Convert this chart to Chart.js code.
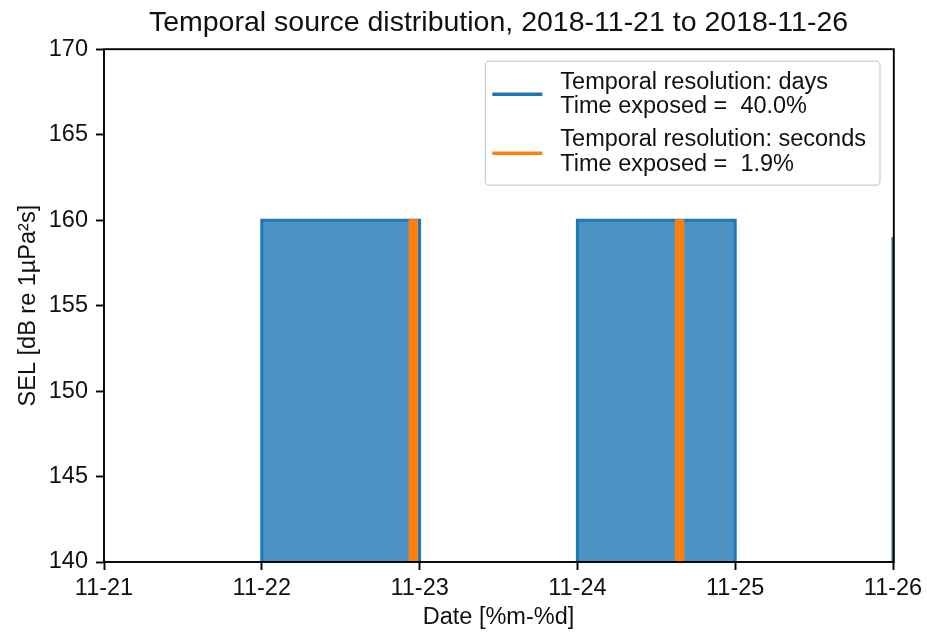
<!DOCTYPE html>
<html>
<head>
<meta charset="utf-8">
<script src="https://cdn.jsdelivr.net/npm/chart.js@4"></script>
<style>
  html, body { margin: 0; padding: 0; background: #ffffff; }
  canvas { display: block; }
</style>
</head>
<body>
<canvas id="chart" width="927" height="632"></canvas>
<script>
// ---- data ----
const chartTitle = 'Temporal source distribution, 2018-11-21 to 2018-11-26';
const rangeStart = '2018-11-21';
const xTickLabels = ['11-21', '11-22', '11-23', '11-24', '11-25', '11-26'];
const yTicks = [140, 145, 150, 155, 160, 165, 170];

// daily bins (each one day long)
const dayBinStarts = ['2018-11-22', '2018-11-24', '2018-11-26'];
const dayBinSEL = [160, 160, 159];

// per-second exposure windows
const secondBinStarts = ['2018-11-22T22:29', '2018-11-24T14:59'];
const secondBinEnds   = ['2018-11-22T23:37', '2018-11-24T16:06'];
const secondBinSEL = [160, 160];

const seriesNames = ['Temporal resolution: days', 'Temporal resolution: seconds'];
const timeExposedPct = ['40.0', '1.9'];
const seriesColors = ['#1f77b4', '#ff7f0e'];
const seriesFills = ['rgba(31,119,180,0.8)', 'rgba(255,127,14,1)'];

const xLabel = 'Date [%m-%d]';
const yLabel = 'SEL [dB re 1\u00b5Pa\u00b2s]';

// ---- helpers ----
const FONT = "'Liberation Sans', Arial, sans-serif";
const DAY_MS = 86400000;
const t0 = Date.parse(rangeStart + 'T00:00:00Z');
const toDays = s => (Date.parse(s.length === 10 ? s + 'T00:00:00Z' : s + ':00Z') - t0) / DAY_MS;
const yMin = yTicks[0], yMax = yTicks[yTicks.length - 1];

// a filled rectangle from the axis floor up to the level, between two x values
function rectPoints(x0, x1, level) {
  return [{x: x0, y: yMin}, {x: x0, y: level}, {x: x1, y: level}, {x: x1, y: yMin}];
}

const datasets = [];
dayBinStarts.forEach((s, i) => {
  const a = toDays(s);
  datasets.push({
    label: seriesNames[0],
    data: rectPoints(a, a + 1, dayBinSEL[i]),
    borderColor: seriesColors[0],
    backgroundColor: seriesFills[0],
    borderWidth: 3,
    fill: 'start',
    order: 2
  });
});
secondBinStarts.forEach((s, i) => {
  datasets.push({
    label: seriesNames[1],
    data: rectPoints(toDays(s), toDays(secondBinEnds[i]), secondBinSEL[i]),
    borderColor: seriesColors[1],
    backgroundColor: seriesFills[1],
    borderWidth: 2,
    fill: 'start',
    order: 1
  });
});

// frame around the plotting area
const framePlugin = {
  id: 'frame',
  afterDatasetsDraw(chart) {
    const {ctx, chartArea: a} = chart;
    ctx.save();
    ctx.strokeStyle = '#000';
    ctx.lineWidth = 1.9;
    ctx.strokeRect(a.left, a.top, a.right + 0.8 - a.left, a.bottom - a.top);
    ctx.restore();
  }
};

// boxed legend in the upper right of the plotting area
const legendBoxPlugin = {
  id: 'legendBox',
  afterDraw(chart) {
    const {ctx, chartArea: a} = chart;
    ctx.save();
    ctx.font = '23.5px ' + FONT;
    const lines = [];
    seriesNames.forEach((n, i) => {
      lines.push(n);
      lines.push('Time exposed =  ' + timeExposedPct[i] + '%');
    });
    const maxW = Math.max(...lines.map(l => ctx.measureText(l).width));
    const w = 7 + 50 + 18 + maxW + 14;
    const h = 124;
    const right = a.right - 13;
    const left = right - w;
    const top = a.top + 12;
    const r = 4;
    ctx.beginPath();
    ctx.moveTo(left + r, top);
    ctx.arcTo(right, top, right, top + h, r);
    ctx.arcTo(right, top + h, left, top + h, r);
    ctx.arcTo(left, top + h, left, top, r);
    ctx.arcTo(left, top, right, top, r);
    ctx.closePath();
    ctx.fillStyle = 'rgba(255,255,255,0.85)';
    ctx.fill();
    ctx.strokeStyle = '#cccccc';
    ctx.lineWidth = 1.2;
    ctx.stroke();

    const handleY = [33, 92];
    const baselines = [[28, 52], [85, 110]];
    seriesNames.forEach((n, i) => {
      ctx.strokeStyle = seriesColors[i];
      ctx.lineWidth = 3.5;
      ctx.beginPath();
      ctx.moveTo(left + 7, top + handleY[i]);
      ctx.lineTo(left + 57, top + handleY[i]);
      ctx.stroke();
      ctx.fillStyle = '#111';
      ctx.textBaseline = 'alphabetic';
      ctx.textAlign = 'left';
      ctx.fillText(lines[i * 2], left + 75, top + baselines[i][0]);
      ctx.fillText(lines[i * 2 + 1], left + 75, top + baselines[i][1]);
    });
    ctx.restore();
  }
};

new Chart(document.getElementById('chart'), {
  type: 'line',
  data: { datasets },
  plugins: [framePlugin, legendBoxPlugin],
  options: {
    responsive: false,
    animation: false,
    devicePixelRatio: 1,
    layout: { padding: { left: 0, right: 34, top: 0, bottom: 0 } },
    elements: {
      point: { radius: 0, hoverRadius: 0 },
      line: { tension: 0, borderJoinStyle: 'miter' }
    },
    plugins: {
      legend: { display: false },
      tooltip: { enabled: false },
      title: {
        display: true,
        fullSize: false,
        text: chartTitle,
        color: '#111',
        font: { family: FONT, size: 28.5, weight: 'normal' },
        padding: { top: 6, bottom: 9 }
      }
    },
    scales: {
      x: {
        type: 'linear',
        min: 0,
        max: xTickLabels.length - 1,
        afterBuildTicks(scale) { scale.ticks = xTickLabels.map((_, i) => ({ value: i })); },
        afterFit(scale) { scale.height = 70; scale.paddingLeft = 0; scale.paddingRight = 0; },
        ticks: {
          autoSkip: false,
          maxRotation: 0,
          padding: 4,
          color: '#111',
          font: { family: FONT, size: 23.5 },
          callback: v => xTickLabels[Math.round(v)]
        },
        grid: {
          drawOnChartArea: false,
          drawTicks: true,
          tickLength: 8,
          tickWidth: 1.9,
          tickColor: '#000'
        },
        border: { display: false },
        title: {
          display: true,
          text: xLabel,
          color: '#111',
          font: { family: FONT, size: 23.5 },
          padding: { top: 0, bottom: 0 }
        }
      },
      y: {
        min: yMin,
        max: yMax,
        afterBuildTicks(scale) { scale.ticks = yTicks.map(v => ({ value: v })); },
        afterFit(scale) { scale.width = 104; },
        ticks: {
          padding: 8,
          color: '#111',
          font: { family: FONT, size: 23.5 }
        },
        grid: {
          drawOnChartArea: false,
          drawTicks: true,
          tickLength: 8,
          tickWidth: 1.9,
          tickColor: '#000'
        },
        border: { display: false },
        title: {
          display: true,
          text: yLabel,
          color: '#111',
          font: { family: FONT, size: 23.5 },
          padding: { top: 14, bottom: 0 }
        }
      }
    }
  }
});
</script>
</body>
</html>
